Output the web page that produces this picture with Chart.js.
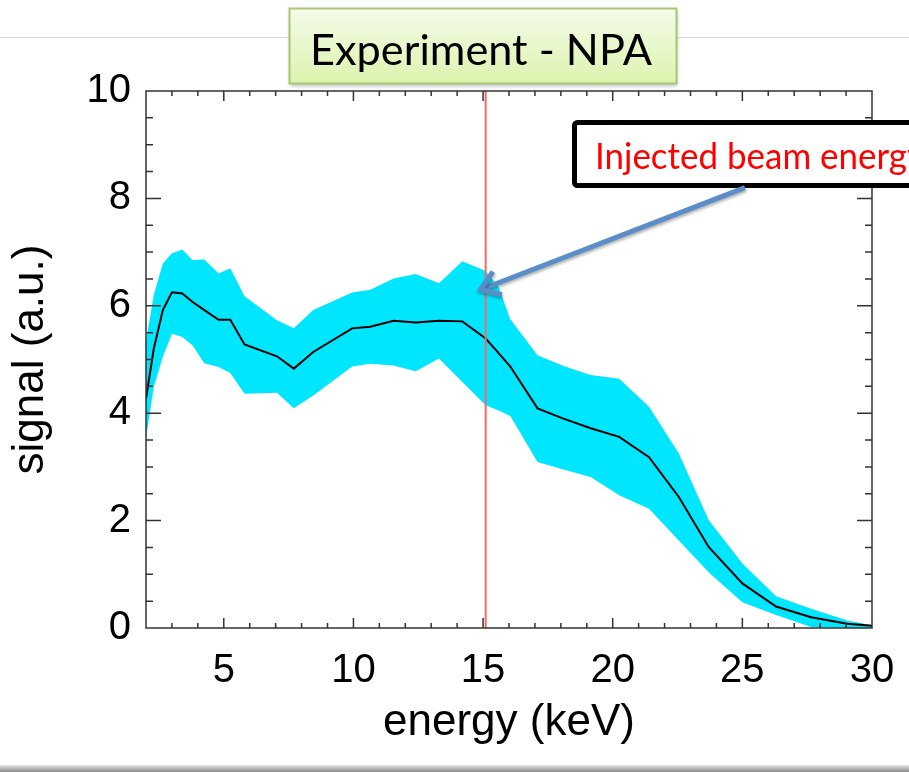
<!DOCTYPE html>
<html>
<head>
<meta charset="utf-8">
<script src="https://cdn.jsdelivr.net/npm/chart.js@4.4.1/dist/chart.umd.min.js"></script>
<style>
  html, body { margin: 0; padding: 0; background: #fff; }
  #wrap { width: 909px; height: 772px; }
</style>
</head>
<body>
<div id="wrap"><canvas id="npa" width="909" height="772"></canvas></div>
<script>
// energy grid (keV) and NPA signal
const energy = [2.0, 2.3, 2.65, 3.0, 3.4, 3.8, 4.25, 4.8, 5.25, 5.8, 7.05, 7.7, 8.45, 9.95, 10.65, 11.55,
  12.4, 13.3, 14.2, 15.1, 15.6, 16.05, 17.1, 18.1, 19.15, 20.25, 21.4, 22.55, 23.7, 25.0, 26.3, 27.65, 29.05, 30.25];
const signalMean = [4.27, 5.2, 5.92, 6.25, 6.23, 6.07, 5.92, 5.74, 5.74, 5.28, 5.06, 4.83, 5.14, 5.58, 5.61, 5.72,
  5.69, 5.72, 5.71, 5.39, 5.12, 4.87, 4.09, 3.9, 3.72, 3.56, 3.18, 2.44, 1.51, 0.83, 0.4, 0.2, 0.08, 0.03];
const signalUpper = [5.35, 6.2, 6.79, 6.98, 7.05, 6.85, 6.86, 6.6, 6.7, 6.18, 5.73, 5.58, 5.92, 6.25, 6.3, 6.51,
  6.59, 6.42, 6.83, 6.65, 6.35, 5.75, 5.08, 4.88, 4.71, 4.64, 4.12, 3.25, 2.01, 1.2, 0.59, 0.36, 0.14, 0.03];
const signalLower = [3.53, 4.49, 5.05, 5.48, 5.42, 5.26, 4.93, 4.86, 4.75, 4.36, 4.38, 4.09, 4.33, 4.87, 4.92, 4.89,
  4.78, 5.02, 4.58, 4.15, 4.05, 3.95, 3.09, 2.95, 2.81, 2.47, 2.22, 1.63, 1.04, 0.48, 0.24, 0.02, 0.0, 0.0];

const beamEnergy = 15.1;                 // red marker line
const arrowTip = { x: 14.9, y: 6.3 };    // annotation arrow, in data units
const arrowTail = { x: 25.1, y: 8.2 };

const titleText = "Experiment - NPA";
const noteText = "Injected beam energy";

Chart.defaults.font.family = "'Liberation Sans', Arial, sans-serif";

const pts = arr => energy.map((e, i) => ({ x: e, y: arr[i] }));

// slide decorations, IDL-style frame with inward ticks, annotations
const slidePlugin = {
  id: "slide",
  beforeDraw(chart) {
    const ctx = chart.ctx;
    ctx.save();
    ctx.fillStyle = "#fff";
    ctx.fillRect(0, 0, chart.width, chart.height);
    ctx.strokeStyle = "#d9d9d9";
    ctx.lineWidth = 1;
    ctx.beginPath();
    ctx.moveTo(0, 37.5);
    ctx.lineTo(chart.width, 37.5);
    ctx.stroke();
    const g = ctx.createLinearGradient(0, 765, 0, 772);
    g.addColorStop(0, "#e4e4e4");
    g.addColorStop(1, "#8c8c8c");
    ctx.fillStyle = g;
    ctx.fillRect(0, 765, chart.width, 7);
    ctx.restore();
  },
  afterDatasetsDraw(chart) {
    const ctx = chart.ctx;
    const { left, right, top, bottom } = chart.chartArea;
    const x = chart.scales.x, y = chart.scales.y;
    ctx.save();
    // beam energy marker
    const bx = x.getPixelForValue(beamEnergy);
    ctx.strokeStyle = "#f06a6a";
    ctx.lineWidth = 2;
    ctx.beginPath();
    ctx.moveTo(bx, top);
    ctx.lineTo(bx, bottom);
    ctx.stroke();
    // frame
    ctx.strokeStyle = "#333";
    ctx.lineWidth = 1.5;
    ctx.strokeRect(left, top, right - left, bottom - top);
    // inward ticks on all four sides
    ctx.beginPath();
    x.ticks.forEach(t => {
      if (t.value <= x.min || t.value >= x.max) return;
      const px = x.getPixelForValue(t.value);
      const len = t.value % 5 === 0 ? 10 : 5;
      ctx.moveTo(px, bottom); ctx.lineTo(px, bottom - len);
      ctx.moveTo(px, top); ctx.lineTo(px, top + len);
    });
    y.ticks.forEach(t => {
      if (t.value <= y.min || t.value >= y.max) return;
      const py = y.getPixelForValue(t.value);
      const len = t.value % 2 === 0 ? 15 : 7;
      ctx.moveTo(left, py); ctx.lineTo(left + len, py);
      ctx.moveTo(right, py); ctx.lineTo(right - len, py);
    });
    ctx.stroke();
    ctx.restore();
  },
  afterDraw(chart) {
    const ctx = chart.ctx;
    const x = chart.scales.x, y = chart.scales.y;
    ctx.save();

    // title box
    ctx.save();
    ctx.shadowColor = "rgba(0,0,0,0.25)";
    ctx.shadowBlur = 4;
    ctx.shadowOffsetY = 2;
    const g = ctx.createLinearGradient(0, 8, 0, 83);
    g.addColorStop(0, "#f5fbea");
    g.addColorStop(1, "#dcf4ae");
    ctx.fillStyle = g;
    ctx.fillRect(289.5, 8.5, 387, 75);
    ctx.restore();
    ctx.strokeStyle = "#a8c774";
    ctx.lineWidth = 2;
    ctx.strokeRect(289.5, 8.5, 387, 75);
    ctx.fillStyle = "#000";
    ctx.font = "42px Lato";
    ctx.textBaseline = "alphabetic";
    ctx.textAlign = "left";
    let w = ctx.measureText(titleText).width;
    ctx.save();
    ctx.translate(310, 65);
    ctx.scale(342 / w, 1);
    ctx.fillText(titleText, 0, 0);
    ctx.restore();

    // note box
    ctx.fillStyle = "#fff";
    ctx.strokeStyle = "#000";
    ctx.lineWidth = 5;
    ctx.beginPath();
    ctx.roundRect(574.5, 122.5, 345, 63, 3);
    ctx.fill();
    ctx.stroke();
    ctx.fillStyle = "#ff0000";
    ctx.font = "36px Lato";
    w = ctx.measureText(noteText.slice(0, -1)).width;
    ctx.save();
    ctx.translate(595, 169);
    ctx.scale(312 / w, 1);
    ctx.fillText(noteText, 0, 0);
    ctx.restore();

    // arrow from note to the marker
    const tx = x.getPixelForValue(arrowTip.x), ty = y.getPixelForValue(arrowTip.y);
    const sx = x.getPixelForValue(arrowTail.x), sy = y.getPixelForValue(arrowTail.y);
    const ang = Math.atan2(sy - ty, sx - tx);
    ctx.shadowColor = "rgba(0,0,0,0.3)";
    ctx.shadowBlur = 3;
    ctx.shadowOffsetX = 1;
    ctx.shadowOffsetY = 2;
    ctx.strokeStyle = "#5b8ec9";
    ctx.lineWidth = 5;
    ctx.lineJoin = "miter";
    ctx.beginPath();
    ctx.moveTo(sx, sy);
    ctx.lineTo(tx + 2 * Math.cos(ang), ty + 2 * Math.sin(ang));
    ctx.stroke();
    ctx.beginPath();
    ctx.moveTo(tx + 22 * Math.cos(ang - 0.6), ty + 22 * Math.sin(ang - 0.6));
    ctx.lineTo(tx, ty);
    ctx.lineTo(tx + 22 * Math.cos(ang + 0.6), ty + 22 * Math.sin(ang + 0.6));
    ctx.stroke();
    ctx.restore();
  }
};

new Chart(document.getElementById("npa"), {
  type: "line",
  data: {
    datasets: [
      { label: "mean", data: pts(signalMean), borderColor: "#000", borderWidth: 2,
        pointRadius: 0, fill: false, tension: 0 },
      { label: "upper", data: pts(signalUpper), borderWidth: 0, borderColor: "rgba(0,0,0,0)",
        backgroundColor: "#00e6ff", pointRadius: 0, fill: "+1", clip: 8 },
      { label: "lower", data: pts(signalLower), borderWidth: 0, borderColor: "rgba(0,0,0,0)",
        pointRadius: 0, fill: false, clip: 8 }
    ]
  },
  options: {
    responsive: false,
    animation: false,
    events: [],
    layout: { padding: { top: 91, right: 37, left: 0, bottom: 0 } },
    plugins: { legend: { display: false }, tooltip: { enabled: false } },
    scales: {
      x: {
        type: "linear", min: 2, max: 30,
        afterFit: s => { s.height = 144; s.paddingLeft = 0; s.paddingRight = 0; },
        grid: { display: false, drawTicks: false },
        border: { display: false },
        ticks: {
          stepSize: 1, autoSkip: false, maxRotation: 0, padding: 19, color: "#000",
          font: { size: 40 },
          callback: v => (v % 5 === 0 ? String(v) : "")
        },
        title: { display: true, text: "energy (keV)", color: "#000", font: { size: 44 },
          padding: { top: 0, bottom: 23 } }
      },
      y: {
        type: "linear", min: 0, max: 10,
        afterFit: s => { s.width = 146; s.paddingTop = 0; s.paddingBottom = 0; },
        grid: { display: false, drawTicks: false },
        border: { display: false },
        ticks: {
          stepSize: 0.5, autoSkip: false, padding: 15, color: "#000",
          font: { size: 40 },
          callback: v => (v % 2 === 0 ? String(v) : "")
        },
        title: { display: true, text: "signal (a.u.)", color: "#000", font: { size: 44 },
          padding: { top: 4, bottom: 0 } }
      }
    }
  },
  plugins: [slidePlugin]
});
</script>
</body>
</html>
